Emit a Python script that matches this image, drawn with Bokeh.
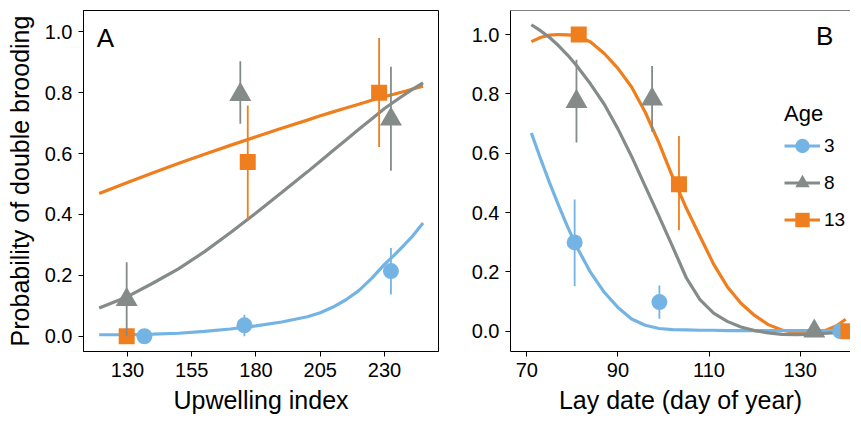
from bokeh.plotting import figure
from bokeh.layouts import row
from bokeh.models import Range1d, Label, Legend, LegendItem, Span, FixedTicker, NumeralTickFormatter
from bokeh.embed import file_html
from bokeh.resources import INLINE

FONT = "Liberation Sans"
BLUE, GRAY, ORANGE = "#74B4E4", "#858B89", "#EF7E1E"

ages = ["3", "8", "13"]

# ---------------- Panel A: upwelling index ----------------
a_fit_x = [119, 130, 140, 150, 160, 170, 180, 190, 200, 205, 210, 215, 220, 225, 230, 234, 238, 241, 245]
a_fit_3 = [0.005, 0.005, 0.007, 0.010, 0.016, 0.024, 0.034, 0.047, 0.064, 0.077, 0.096, 0.120, 0.150, 0.190,
           0.236, 0.268, 0.303, 0.330, 0.372]
a_fit_8 = [0.093, 0.130, 0.175, 0.222, 0.278, 0.340, 0.405, 0.472, 0.540, 0.575, 0.610, 0.645, 0.680, 0.714,
           0.748, 0.772, 0.795, 0.812, 0.832]
a_fit_13 = [0.469, 0.505, 0.537, 0.568, 0.598, 0.627, 0.655, 0.683, 0.710, 0.724, 0.737, 0.750, 0.762, 0.775,
            0.787, 0.796, 0.805, 0.812, 0.821]

a_x3 = [136.6, 175.5, 232.5]
a_y3 = [0.0, 0.036, 0.214]
a_lo3 = [0.0, 0.0, 0.137]
a_hi3 = [0.0, 0.071, 0.290]

a_x8 = [129.7, 173.9, 232.5]
a_y8 = [0.120, 0.794, 0.713]
a_lo8 = [0.0, 0.698, 0.544]
a_hi8 = [0.243, 0.903, 0.885]

a_x13 = [129.7, 176.8, 227.9]
a_y13 = [0.0, 0.572, 0.800]
a_lo13 = [0.0, 0.383, 0.622]
a_hi13 = [0.0, 0.758, 0.980]

a_xticks = [130, 155, 180, 205, 230]

# ---------------- Panel B: lay date ----------------
b_fit_x = [71, 73, 75, 77, 79, 81, 84, 87, 90, 93, 96, 99, 102, 105, 108, 111, 114, 117, 120, 123, 126, 129, 132, 135, 138, 140]
b_fit_3 = [0.668, 0.582, 0.500, 0.423, 0.350, 0.283, 0.198, 0.131, 0.080, 0.041, 0.020, 0.009, 0.005, 0.004,
           0.003, 0.003, 0.002, 0.002, 0.002, 0.002, 0.002, 0.002, 0.002, 0.002, 0.002, 0.002]
b_fit_8 = [1.033, 1.013, 0.990, 0.962, 0.930, 0.894, 0.833, 0.765, 0.682, 0.589, 0.488, 0.388, 0.285, 0.180,
           0.106, 0.061, 0.033, 0.014, 0.002, -0.006, -0.011, -0.012, -0.011, -0.008, -0.005, -0.003]
b_fit_13 = [0.976, 0.990, 0.998, 1.000, 0.999, 0.996, 0.975, 0.936, 0.886, 0.823, 0.738, 0.635, 0.520, 0.415,
            0.320, 0.226, 0.150, 0.094, 0.053, 0.022, 0.004, -0.006, -0.009, -0.001, 0.018, 0.040]

b_x3 = [80.5, 99.1, 138.8]
b_y3 = [0.299, 0.098, 0.0]
b_lo3 = [0.151, 0.042, 0.0]
b_hi3 = [0.444, 0.154, 0.0]

b_x8 = [80.9, 97.5, 133.1]
b_y8 = [0.774, 0.782, 0.0]
b_lo8 = [0.636, 0.672, 0.0]
b_hi8 = [0.915, 0.894, 0.0]

b_x13 = [81.4, 103.4, 140.6]
b_y13 = [1.0, 0.495, 0.0]
b_lo13 = [1.0, 0.340, 0.0]
b_hi13 = [1.0, 0.658, 0.0]

b_xticks = [70, 90, 110, 130]
yticks = [0.0, 0.2, 0.4, 0.6, 0.8, 1.0]


def style(p, xticks, xlabel, ylabel):
    p.grid.visible = False
    p.background_fill_color = "white"
    p.border_fill_color = "white"
    p.xaxis.ticker = FixedTicker(ticks=xticks)
    p.yaxis.ticker = FixedTicker(ticks=yticks)
    p.yaxis.formatter = NumeralTickFormatter(format="0.0")
    for ax in (p.xaxis[0], p.yaxis[0]):
        ax.axis_line_color = "black"
        ax.axis_line_width = 1
        ax.major_tick_out = 5
        ax.major_tick_in = 0
        ax.minor_tick_out = 0
        ax.minor_tick_in = 0
        ax.major_tick_line_color = "black"
        ax.major_label_text_font = FONT
        ax.major_label_text_font_size = "20px"
        ax.major_label_text_color = "black"
        ax.major_label_text_line_height = 1.0
        ax.major_label_standoff = 6
        ax.axis_label_text_font = FONT
        ax.axis_label_text_font_size = "25px"
        ax.axis_label_text_font_style = "normal"
        ax.axis_label_text_color = "black"
        ax.axis_label_text_line_height = 1.0
    p.xaxis.axis_label = xlabel
    p.xaxis.axis_label_standoff = 6
    if ylabel:
        p.yaxis.axis_label = ylabel
        p.yaxis.axis_label_standoff = 8


def draw(p, fit_x, fits, pts):
    lines = {}
    for key, color in (("13", ORANGE), ("3", BLUE), ("8", GRAY)):
        lines[key] = p.line(fit_x, fits[key], line_color=color, line_width=3.2)
    marks = {}
    for key, color, marker, size in (("3", BLUE, "circle", 16), ("8", GRAY, "triangle", 22), ("13", ORANGE, "square", 16)):
        x, y, lo, hi = pts[key]
        marks[key] = p.scatter(x, y, marker=marker, size=size, fill_color=color, line_color=color, line_width=0)
    for key, color in (("3", BLUE), ("13", ORANGE), ("8", GRAY)):
        x, y, lo, hi = pts[key]
        p.segment(x0=x, y0=lo, x1=x, y1=hi, line_color=color, line_width=1.8)
    return lines, marks


H = 417
# Panel A figure
pA = figure(width=439, height=H, output_backend="svg", toolbar_location=None,
            x_range=Range1d(112.9, 251.0), y_range=Range1d(-0.05, 1.07),
            min_border_left=83, min_border_right=1, min_border_top=10, min_border_bottom=66)
style(pA, a_xticks, "Upwelling index", "Probability of double brooding")
pA.outline_line_color = "black"
pA.outline_line_width = 1
draw(pA, a_fit_x, {"3": a_fit_3, "8": a_fit_8, "13": a_fit_13},
     {"3": (a_x3, a_y3, a_lo3, a_hi3), "8": (a_x8, a_y8, a_lo8, a_hi8), "13": (a_x13, a_y13, a_lo13, a_hi13)})
pA.add_layout(Label(x=118.1, y=0.981, text="A", text_font=FONT, text_font_size="26px",
                    text_color="black", text_align="left", text_baseline="alphabetic"))

# Panel B figure
pB = figure(width=411, height=H, output_backend="svg", toolbar_location=None,
            x_range=Range1d(66.42, 141.05), y_range=Range1d(-0.0686, 1.081),
            min_border_left=71, min_border_right=0, min_border_top=10, min_border_bottom=66)
style(pB, b_xticks, "Lay date (day of year)", None)
pB.outline_line_color = None
pB.add_layout(Span(location=1.081, dimension="width", line_color="black", line_width=1))
linesB, marksB = draw(pB, b_fit_x, {"3": b_fit_3, "8": b_fit_8, "13": b_fit_13},
                      {"3": (b_x3, b_y3, b_lo3, b_hi3), "8": (b_x8, b_y8, b_lo8, b_hi8), "13": (b_x13, b_y13, b_lo13, b_hi13)})
pB.add_layout(Label(x=133.5, y=0.995, text="B", text_font=FONT, text_font_size="26px",
                    text_color="black", text_align="left", text_baseline="alphabetic"))

legend = Legend(items=[LegendItem(label=a, renderers=[linesB[a], marksB[a]]) for a in ages],
                title="Age", location=(274, 113), padding=0, margin=0,
                border_line_color=None, background_fill_alpha=0,
                glyph_width=36, glyph_height=37, spacing=0, label_standoff=4,
                label_text_font=FONT, label_text_font_size="19px", label_text_color="black",
                title_text_font=FONT, title_text_font_size="22px", title_text_font_style="normal",
                title_text_color="black", title_standoff=-3)
pB.add_layout(legend)

layout = row(pA, pB)
open("out.html", "w").write(file_html(layout, INLINE))
